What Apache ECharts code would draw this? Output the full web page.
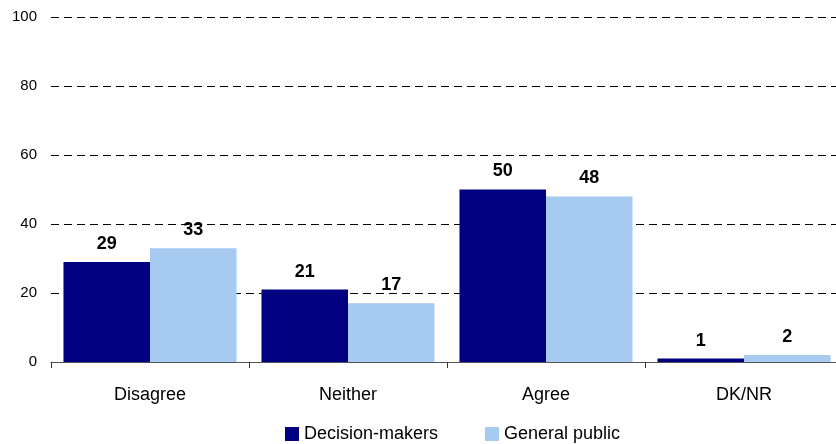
<!DOCTYPE html>
<html>
<head>
<meta charset="utf-8">
<script src="https://cdn.jsdelivr.net/npm/echarts@6/dist/echarts.min.js"></script>
<style>
  html, body { margin: 0; padding: 0; background: #fff; }
  #chart { width: 836px; height: 444px; }
</style>
</head>
<body>
<div id="chart"></div>
<script>
const categories = ['Disagree', 'Neither', 'Agree', 'DK/NR'];
const decisionMakers = [29, 21, 50, 1];
const generalPublic = [33, 17, 48, 2];
const yTicks = [0, 20, 40, 60, 80, 100];

const chart = echarts.init(document.getElementById('chart'));
const labelStyle = {
  show: true,
  position: 'top',
  distance: 9,
  fontFamily: 'Liberation Sans, Arial, sans-serif',
  fontWeight: 'bold',
  fontSize: 18,
  color: '#000'
};

chart.setOption({
  animation: false,
  textStyle: { fontFamily: 'Liberation Sans, Arial, sans-serif' },
  grid: {
    left: 51, top: 17, width: 792, height: 345,
    containLabel: false, outerBoundsMode: 'none'
  },
  legend: {
    top: 420,
    left: 280,
    itemWidth: 14,
    itemHeight: 14,
    itemGap: 47,
    icon: 'rect',
    textStyle: { fontSize: 18, color: '#000' },
    data: ['Decision-makers', 'General public']
  },
  xAxis: {
    type: 'category',
    data: categories,
    axisLine: { lineStyle: { color: '#555', width: 1 } },
    axisTick: { show: true, length: 6, lineStyle: { color: '#333' } },
    axisLabel: { fontSize: 18, color: '#000', margin: 24 }
  },
  yAxis: {
    type: 'value',
    min: yTicks[0],
    max: yTicks[yTicks.length - 1],
    interval: 20,
    axisLine: { show: false },
    axisTick: { show: false },
    axisLabel: { fontSize: 15, color: '#000', margin: 14 },
    splitLine: { lineStyle: { type: [8, 5], color: '#000', width: 1 } }
  },
  series: [
    {
      name: 'Decision-makers',
      type: 'bar',
      data: decisionMakers,
      barGap: '0%',
      barCategoryGap: '12.6%',
      itemStyle: { color: '#000080' },
      label: labelStyle
    },
    {
      name: 'General public',
      type: 'bar',
      data: generalPublic,
      itemStyle: { color: '#A6CAF0' },
      label: labelStyle
    }
  ]
});
</script>
</body>
</html>
